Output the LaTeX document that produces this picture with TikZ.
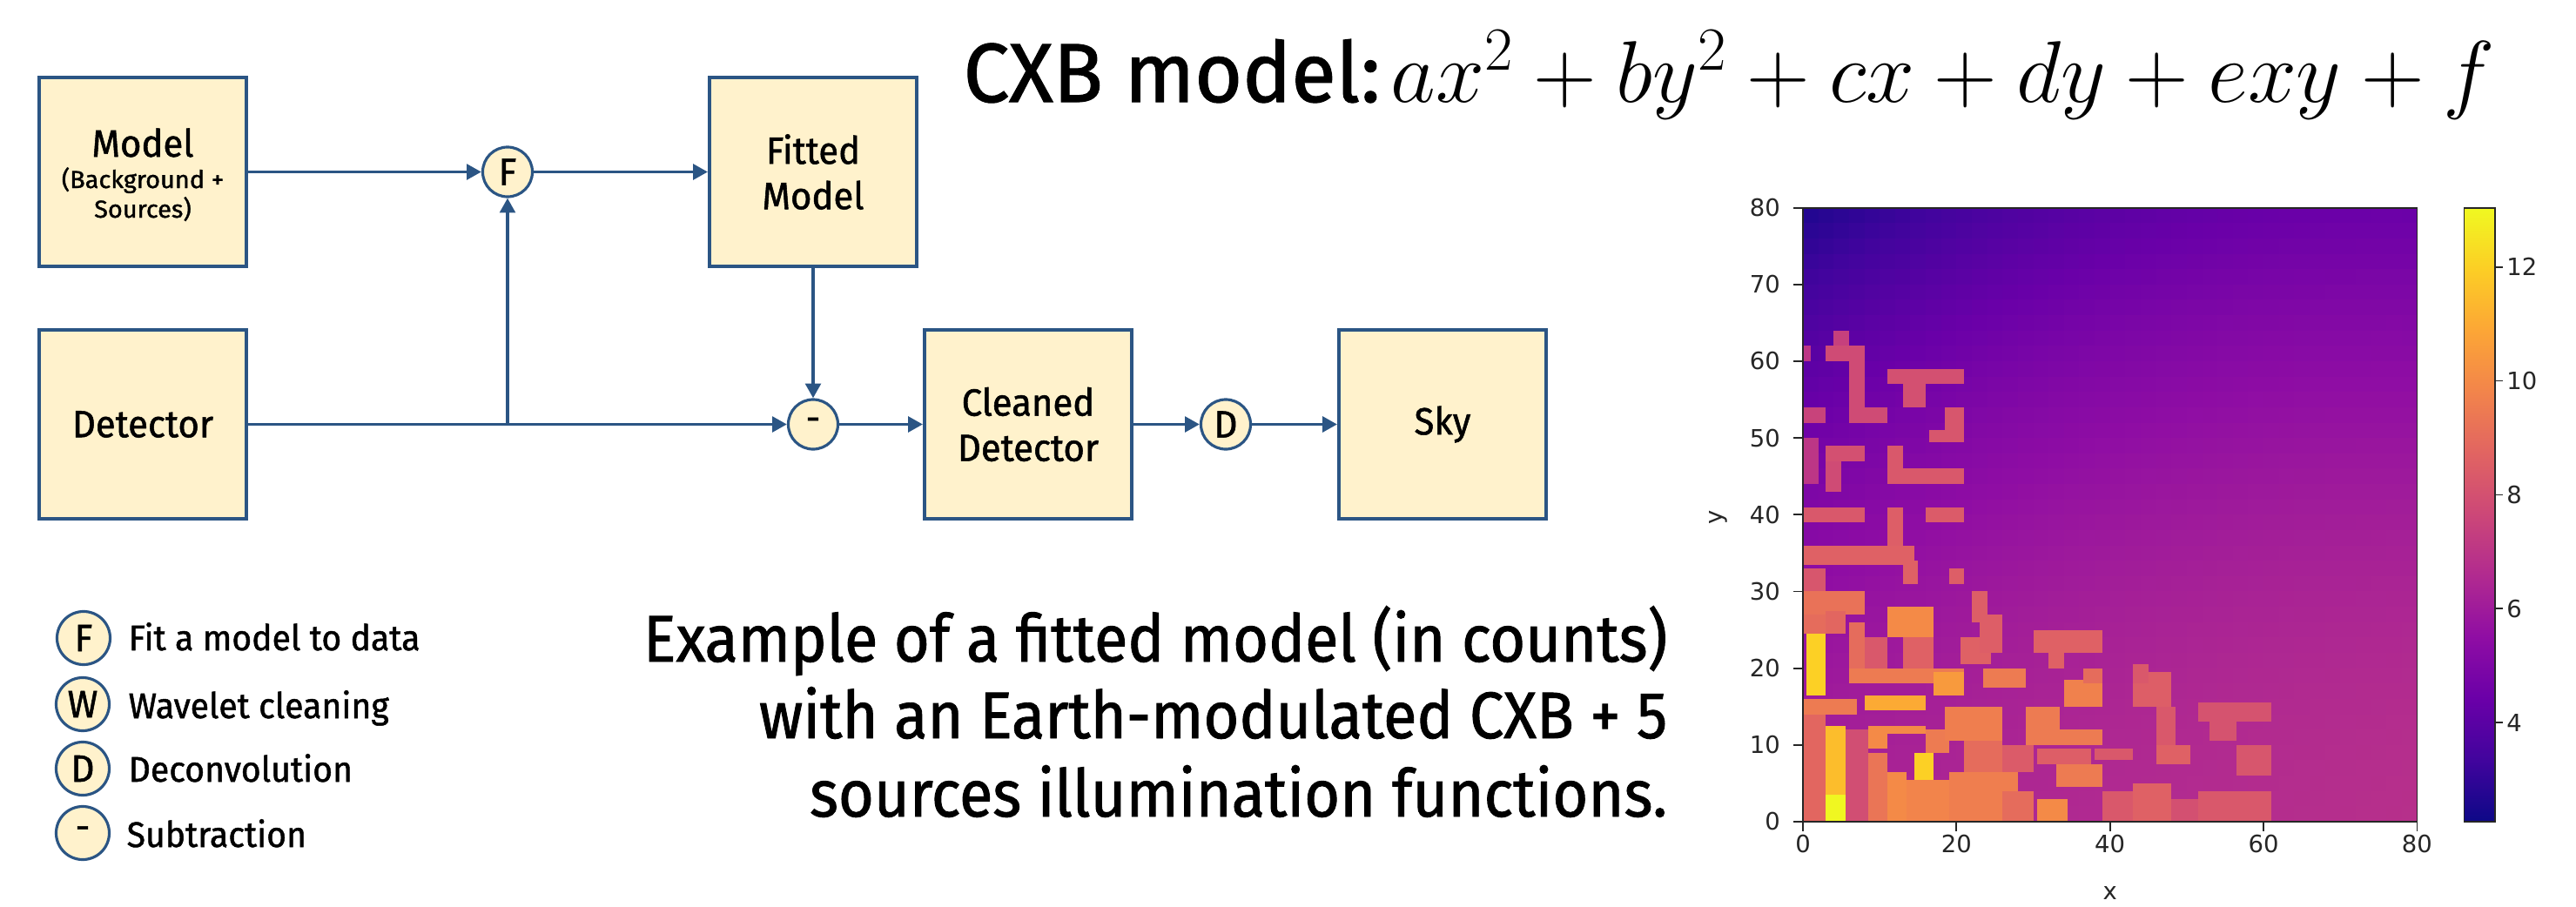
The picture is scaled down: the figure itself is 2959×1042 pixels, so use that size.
\RequirePackage{fix-cm}
\documentclass[tikz,border=0pt]{standalone}
\usepackage{fontspec}
\setmainfont{Fira Sans}[FakeStretch=0.96, FakeBold=1.2]
\newfontfamily\tickfont{DejaVu Sans}
\usetikzlibrary{arrows.meta}

% diagram colours
\definecolor{boxfill}{HTML}{FFF2CC}
\definecolor{flow}{HTML}{2B5584}
\definecolor{ticktext}{HTML}{262626}
% plasma colour map, 11 stops
\definecolor{p0}{HTML}{0D0887}
\definecolor{p1}{HTML}{41049D}
\definecolor{p2}{HTML}{6A00A8}
\definecolor{p3}{HTML}{8F0DA4}
\definecolor{p4}{HTML}{B12A90}
\definecolor{p5}{HTML}{CC4778}
\definecolor{p6}{HTML}{E16462}
\definecolor{p7}{HTML}{F2844B}
\definecolor{p8}{HTML}{FCA636}
\definecolor{p9}{HTML}{FCCE25}
\definecolor{p10}{HTML}{F0F921}

\pgfdeclareverticalshading{plasmabar}{100bp}{color(0bp)=(p0); color(25bp)=(p0);
  color(30bp)=(p1); color(35bp)=(p2); color(40bp)=(p3); color(45bp)=(p4);
  color(50bp)=(p5); color(55bp)=(p6); color(60bp)=(p7); color(65bp)=(p8);
  color(70bp)=(p9); color(75bp)=(p10); color(100bp)=(p10)}

% value (counts) -> colour "cellc", colour scale from 2.26 to 13.04
\newcommand\plasmaset[1]{%
  \pgfmathsetmacro\plT{max(0,min(9.9999,(#1-2.26)/10.78*10))}%
  \pgfmathtruncatemacro\plK{floor(\plT)}%
  \pgfmathtruncatemacro\plKK{\plK+1}%
  \pgfmathsetmacro\plF{(\plT-\plK)*100}%
  \colorlet{cellc}{p\plKK!\plF!p\plK}%
}

\newcommand\dfBox{\fontsize{12.4}{14.8}\selectfont}
\newcommand\dfSmall{\fontsize{8}{10}\selectfont}
\newcommand\dfLegend{\fontsize{11.6}{14}\selectfont}
\newcommand\dfCaption{\fontsize{21.5}{25.3}\selectfont}
\newcommand\dfTitle{\fontsize{27.3}{32}\selectfont}
\newcommand\dfMath{\fontsize{28.6}{32}\selectfont}
\newcommand\dfTick{\tickfont\fontsize{7.8}{9}\selectfont}

\tikzset{
  stage/.style={draw=flow, line width=1.1pt, fill=boxfill, minimum width=2.38cm,
    minimum height=2.17cm, inner sep=0pt, align=center, font=\dfBox},
  op/.style={circle, draw=flow, line width=0.9pt, fill=boxfill, minimum size=0.57cm,
    inner sep=0pt, font=\dfBox},
  keyop/.style={op, minimum size=0.61cm},
  conn/.style={draw=flow, line width=1.1pt, -{Triangle[length=4.8pt,width=5pt]}},
  keytext/.style={anchor=base west, inner sep=0pt, font=\dfLegend},
  captext/.style={anchor=base east, inner sep=0pt, font=\dfCaption},
  ticklab/.style={inner sep=0pt, text=ticktext, font=\dfTick},
  tickmark/.style={line width=0.5pt, draw=ticktext},
}

\begin{document}
\begin{tikzpicture}[x=0.01cm, y=-0.01cm]
\useasboundingbox (0,0) rectangle (2959,1042);
\fill[white] (0,0) rectangle (2959,1042);

% ---------- processing chain ----------
\node[stage] (model) at (164,197.5) {};
\node[anchor=base, inner sep=0pt, font=\dfBox] (model-a) at (164,180) {Model};
\node[anchor=base, inner sep=0pt, font=\dfSmall] (model-b) at (164,216) {\scalebox{1.07}[1]{(Background +}};
\node[anchor=base, inner sep=0pt, font=\dfSmall] (model-c) at (164,250) {\scalebox{1.07}[1]{Sources)}};
\node[stage] (fitted) at (934,197.5) {Fitted\\Model};
\node[stage] (det) at (164,487.5) {Detector};
\node[stage] (clean) at (1181,487.5) {Cleaned\\Detector};
\node[stage] (sky) at (1657,487.5) {Sky};

\node[op] (fit) at (583,197.5) {F};
\node[op] (minus) at (934,487.5) {-};
\node[op] (dec) at (1408,487.5) {D};

\coordinate (jn) at (fit |- det.east);
\draw[conn] (model.east) -- (fit.west);
\draw[conn] (fit.east) -- (fitted.west);
\draw[conn] (det.east) -- (minus.west);
\draw[conn] (jn) -- (fit.south);
\draw[conn] (fitted.south) -- (minus.north);
\draw[conn] (minus.east) -- (clean.west);
\draw[conn] (clean.east) -- (dec.west);
\draw[conn] (dec.east) -- (sky.west);

% ---------- legend ----------
\node[keyop] (kF) at (96,733) {F};
\node[keyop] (kW) at (95,809) {W};
\node[keyop] (kD) at (95,883) {D};
\node[keyop] (kS) at (95,957) {-};
\node[keytext] (kFt) at (147,747) {Fit a model to data};
\node[keytext] (kWt) at (147,825) {Wavelet cleaning};
\node[keytext] (kDt) at (147,898) {Deconvolution};
\node[keytext] (kSt) at (145,973) {Subtraction};

% ---------- title and caption ----------
\node[anchor=base west, inner sep=0pt, font=\dfTitle] (title) at (1106,117) {\scalebox{1.02}[1]{CXB model:}};
\node[anchor=base west, inner sep=0pt, font=\dfMath] (cxbeq) at (1597,117) {$ax^2+by^2+cx+dy+exy+f$};

\node[captext] (cap1) at (1916,760) {\scalebox{0.968}[1]{Example of a fitted model (in counts)}};
\node[captext] (cap2) at (1916,848) {\scalebox{0.968}[1]{with an Earth-modulated CXB + 5}};
\node[captext] (cap3) at (1916,938) {\scalebox{0.968}[1]{sources illumination functions.}};

% ---------- fitted model map (data units, 0..80) ----------
\begin{scope}[shift={(2071,944)}, x=0.088125cm, y=0.088125cm]
  \begin{scope}
    \clip (0,0) rectangle (80,80);
    % smooth quadratic background
    \foreach \i in {0,...,39}{
      \foreach \j in {0,...,39}{
        \pgfmathsetmacro\uu{(2*\i+1)/80}
        \pgfmathsetmacro\vv{(2*\j+1)/80}
        \pgfmathsetmacro\bg{(1-\uu)*(6.3-1.18*\vv-2.52*\vv*\vv)+\uu*(6.8-0.4*\vv-2*\vv*\vv)+2*\vv*\uu*(1-\uu)}
        \plasmaset{\bg}
        \fill[cellc] (2*\i,2*\j) rectangle ++(2.06,2.06);
      }
    }
    % source illumination patterns
    \foreach \xa/\ya/\xb/\yb/\val in {
      0/0/3/14/8.8, 5.5/0/8.5/12/7.9, 8.5/0/11/9/9.3, 13.5/0/19/5.5/9.8,
      16/9/19/12/9.5, 21/6.5/26/10.5/9.0, 26/6.5/30/10/8.4, 19/0/28/6.5/9.6,
      26/0/30/4/9.0, 39/0/43/4/8.3, 48/0/51.5/3/8.0, 0/24.5/3/27/9.0,
      8/20/11/24/8.3, 13/20/17/24/8.6,
      4/62/6/64/7.4, 3/60/8/62/7.8, 6/52/8/60/7.8, 6/52/11/54/7.8,
      0/60/1/62/7.0, 0/52/3/54/7.5, 11/57/21/59/8.0, 13/54/16/57/8.0,
      16.5/49.5/21/51/8.2, 18.5/51/21/54/8.2, 3/47/8/49/8.0, 3/43/5/47/7.8,
      0/44/2/50/7.0, 11/44/21/46/8.3, 11/46/13/49/8.3, 0/39/8/41/8.3,
      11/35/13/41/8.5, 16/39/21/41/8.4, 0/33.5/14.5/36/8.6, 13/31/15/34/8.6,
      19/31/21/33/8.5, 0/30/3/33/8.2, 0/27/8/30/9.2,
      20.5/20.5/24.5/24/8.6, 22/26/24/30/8.5, 23/22/26/27/8.5,
      30/22/39/25/8.6, 32/20/34/22/8.6,
      11/24/17/28/10, 3/24.5/5.5/27.5/8.8, 6/20/8/26/9.0, 0.5/16.5/3/24.5/12,
      6/18/21/20/9.5, 17/16.5/21/19.5/10.5, 23.5/17.5/29/20/9.5,
      0/14/7/16/9.5, 8/14.5/16/16.5/11, 3/3.5/5.5/12.5/11.5, 3/0/5.5/3.5/13,
      8.5/9.5/11/12.5/10, 8.5/11.5/16/12.5/10, 14.5/5.5/17/9/12, 11/0/13.5/6.5/10,
      18.5/10.5/26/15/9.6, 29/10/33.5/15/9.5, 34/15/39/18.5/9.7, 36.5/18/39/20/9.0,
      33/10/39/12/9.5, 30.5/7.5/37.5/9.5/8.5, 38/8/43/9.5/8.3, 33/4.5/39/7.5/9.5,
      30.5/0/34.5/3/10, 43/15/48/19.5/8.5, 43/18/45/20.5/8.3, 46/10/48.5/15/8.3,
      46/7.5/50.5/10/8.6, 51.5/13/61/15.5/8.1, 53/10.5/56.5/13/8.1,
      56.5/6/61/10/8.2, 43/0/48/5/8.6, 51.5/0/61/4/8.3}{
      \plasmaset{\val}
      \fill[cellc] (\xa,\ya) rectangle (\xb,\yb);
    }
  \end{scope}
  \draw[line width=0.5pt, draw=ticktext] (0,0) rectangle (80,80);
  % axes ticks
  \foreach \t in {0,20,40,60,80}{
    \draw[tickmark] (\t,0) -- (\t,-1.25);
    \node[ticklab, anchor=north] (xt\t) at (\t,-1.6) {\t};
  }
  \foreach \t in {0,10,...,80}{
    \draw[tickmark] (0,\t) -- (-1.25,\t);
    \node[ticklab, anchor=east] (yt\t) at (-2.9,\t) {\t};
  }
  \node[ticklab] (xlab) at (40,-9.3) {x};
  \node[ticklab, rotate=90] (ylab) at (-11,39.6) {y};
  % colour bar
  \shade[shading=plasmabar] (86.13,0) rectangle (90.2,80);
  \draw[line width=0.5pt, draw=ticktext] (86.13,0) rectangle (90.2,80);
  \foreach \c in {4,6,8,10,12}{
    \pgfmathsetmacro\cy{(\c-2.26)/10.78*80}
    \draw[tickmark] (90.2,\cy) -- (91.2,\cy);
    \node[ticklab, anchor=west] (cb\c) at (91.6,\cy) {\c};
  }
\end{scope}
\end{tikzpicture}
\end{document}
